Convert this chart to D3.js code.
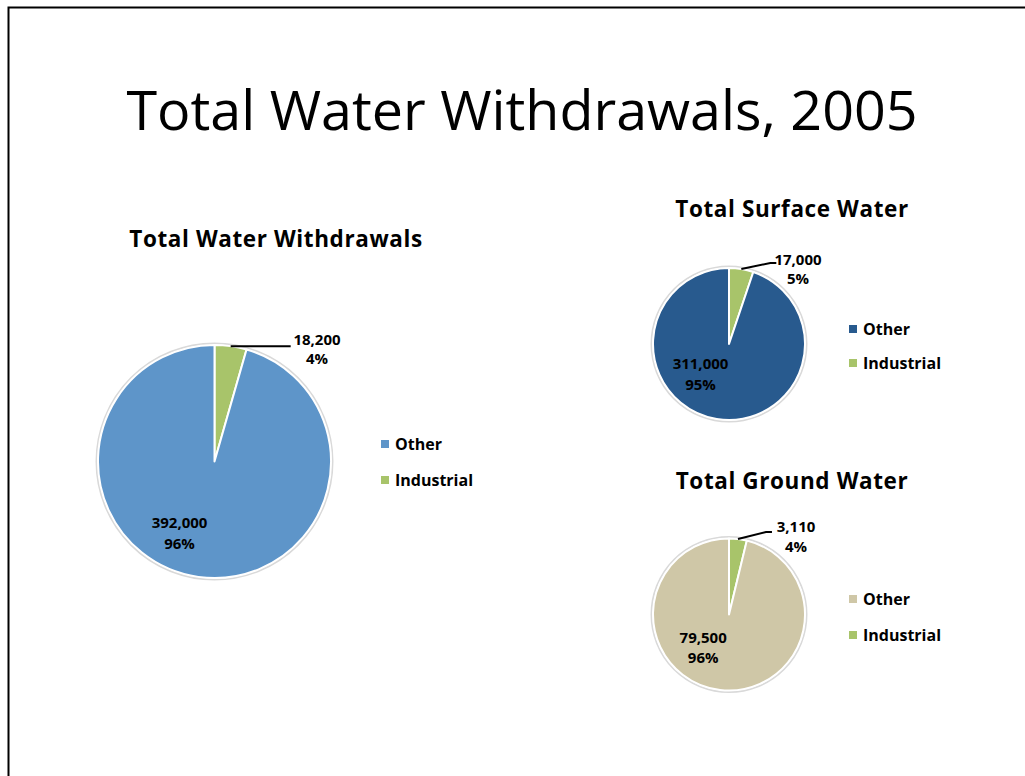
<!DOCTYPE html>
<html>
<head>
<meta charset="utf-8">
<script src="https://cdn.jsdelivr.net/npm/d3@7"></script>
<style>
  body { margin: 0; background: #fff; }
  text { font-family: "Open Sans", "Noto Sans", sans-serif; }
</style>
</head>
<body>
<script>
// DATA
const categories = ["Industrial", "Other"]
const legendOrder = ["Other", "Industrial"]
const chartTitles = ["Total Water Withdrawals", "Total Surface Water", "Total Ground Water"]
const totalValues = [18200, 392000]
const surfaceValues = [17000, 311000]
const groundValues = [3110, 79500]
const totalPct = ["4%", "96%"]
const surfacePct = ["5%", "95%"]
const groundPct = ["4%", "96%"]
const pageTitle = "Total Water Withdrawals, 2005"

// LAYOUT
const W = 1025, H = 776
const green = "#a8c46a"
const charts = [
  {title: chartTitles[0], values: totalValues, pct: totalPct, other: "#5e95c9",
   cx: 214.5, cy: 461.5, r: 116.5, titleY: 247, titleX: 276,
   otherLbl: [-0.30, 0.61], indLbl: {x: 317, y: 339, gap: 19.5}, leader: [[0, 0], [60, 0]],
   legend: {x: 381, y: 444, step: 36}},
  {title: chartTitles[1], values: surfaceValues, pct: surfacePct, other: "#285a8e",
   cx: 729, cy: 344, r: 76, titleY: 217, titleX: 792,
   otherLbl: [-0.375, 0.39], indLbl: {x: 798, y: 259, gap: 19}, leader: [[0, 0], [29, -6], [35, -6]],
   legend: {x: 849, y: 329, step: 34}},
  {title: chartTitles[2], values: groundValues, pct: groundPct, other: "#cfc7a7",
   cx: 729, cy: 614.5, r: 76, titleY: 489, titleX: 792,
   otherLbl: [-0.34, 0.43], indLbl: {x: 796, y: 526, gap: 20.5}, leader: [[0, 0], [28, -7], [34, -7]],
   legend: {x: 849, y: 599, step: 36}}
]

const fmt = d3.format(",")

const svg = d3.select("body").append("svg")
    .attr("width", W)
    .attr("height", H)

// slide frame
svg.append("path")
    .attr("d", `M8.5,${H} V7.5 H${W}`)
    .attr("fill", "none")
    .attr("stroke", "#000")
    .attr("stroke-width", 2)

svg.append("text")
    .attr("x", 522)
    .attr("y", 130)
    .attr("text-anchor", "middle")
    .attr("font-size", 55.6)
    .attr("fill", "#000")
    .text(pageTitle)

const pie = d3.pie().sort(null).value(d => d)

charts.forEach(c => {
    const g = svg.append("g").attr("transform", `translate(${c.cx},${c.cy})`)
    const colors = d3.scaleOrdinal().domain(categories).range([green, c.other])
    const arc = d3.arc().innerRadius(0).outerRadius(c.r)
    const arcs = pie(c.values)

    svg.append("text")
        .attr("x", c.titleX)
        .attr("y", c.titleY)
        .attr("text-anchor", "middle")
        .attr("font-size", 22.5)
        .attr("font-weight", "bold")
        .attr("letter-spacing", 0.6)
        .text(c.title)

    // soft outer edge
    g.append("circle")
        .attr("r", c.r + 1.5)
        .attr("fill", "none")
        .attr("stroke", "#d9d9d9")
        .attr("stroke-width", 2)

    g.selectAll(".slice")
        .data(arcs)
        .enter().append("path").classed("slice", true)
        .attr("d", arc)
        .attr("fill", (d, i) => colors(categories[i]))
        .attr("stroke", "#fff")
        .attr("stroke-width", 2)
        .attr("stroke-linejoin", "round")

    // other label inside
    const o = arcs[1]
    const ox = c.otherLbl[0] * c.r, oy = c.otherLbl[1] * c.r
    const lo = g.append("text")
        .attr("text-anchor", "middle")
        .attr("font-size", 15)
        .attr("font-weight", "bold")
        .attr("fill", "#000")
    lo.append("tspan").attr("x", ox).attr("y", oy - 4.5).text(fmt(o.value))
    lo.append("tspan").attr("x", ox).attr("y", oy + 16).text(c.pct[1])

    // industrial label outside with leader line
    const ind = arcs[0]
    const mid = (ind.startAngle + ind.endAngle) / 2
    const start = [c.cx + Math.sin(mid) * c.r, c.cy - Math.cos(mid) * c.r]
    svg.append("path")
        .attr("d", d3.line()(c.leader.map(p => [start[0] + p[0], start[1] + p[1]])))
        .attr("fill", "none")
        .attr("stroke", "#000")
        .attr("stroke-width", 2)
    const li = svg.append("text")
        .attr("text-anchor", "middle")
        .attr("font-size", 15)
        .attr("font-weight", "bold")
    li.append("tspan").attr("x", c.indLbl.x).attr("y", c.indLbl.y + 5.5).text(fmt(ind.value))
    li.append("tspan").attr("x", c.indLbl.x).attr("y", c.indLbl.y + 5.5 + c.indLbl.gap).text(c.pct[0])

    // legend
    const lg = svg.append("g").attr("transform", `translate(${c.legend.x},${c.legend.y})`)
    const items = lg.selectAll(".item")
        .data(legendOrder)
        .enter().append("g").classed("item", true)
        .attr("transform", (d, i) => `translate(0,${i * c.legend.step})`)
    items.append("rect")
        .attr("x", 0).attr("y", -4)
        .attr("width", 8).attr("height", 8)
        .attr("fill", d => colors(d))
    items.append("text")
        .attr("x", 14)
        .attr("y", 6)
        .attr("font-size", 16)
        .attr("font-weight", "bold")
        .text(d => d)
})
</script>
</body>
</html>
